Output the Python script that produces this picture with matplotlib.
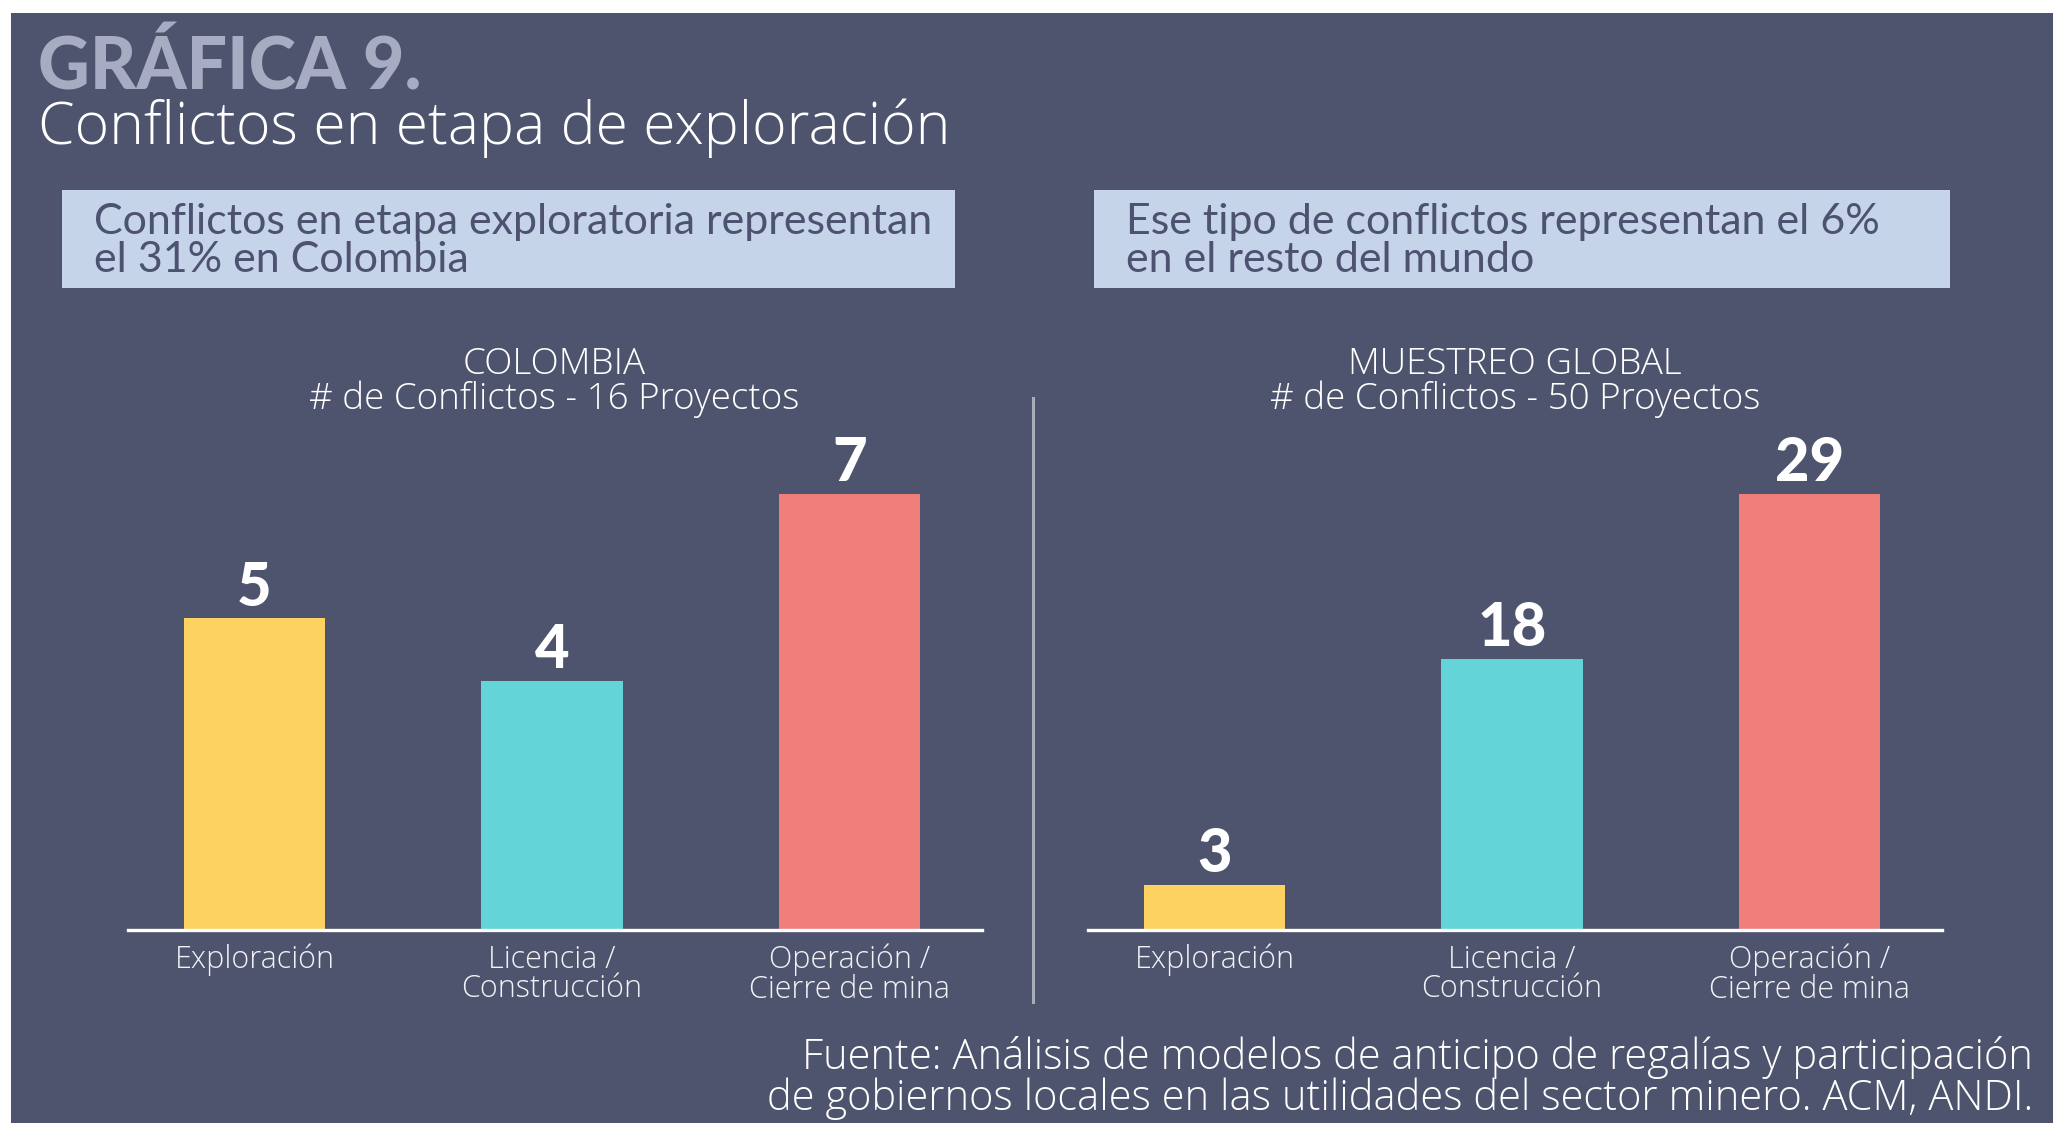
import matplotlib
matplotlib.use("Agg")
import matplotlib.pyplot as plt
from matplotlib.patches import Rectangle

# ---- data ----
categories = ["Exploración", "Licencia /\nConstrucción", "Operación /\nCierre de mina"]
colombia_values = [5, 4, 7]
global_values = [3, 18, 29]
bar_colors = ["#FED260", "#63D5D8", "#F07F7B"]

title_main = "GRÁFICA 9."
title_sub = "Conflictos en etapa de exploración"
box_left_text = "Conflictos en etapa exploratoria representan\nel 31% en Colombia"
box_right_text = "Ese tipo de conflictos representan el 6%\nen el resto del mundo"
left_header = "COLOMBIA\n# de Conflictos - 16 Proyectos"
right_header = "MUESTREO GLOBAL\n# de Conflictos - 50 Proyectos"
footer = ("Fuente: Análisis de modelos de anticipo de regalías y participación\n"
          "de gobiernos locales en las utilidades del sector minero. ACM, ANDI.")

BG = "#4F546E"
W, H = 2053, 1123
FONT = ["Lato", "DejaVu Sans"]
WIDE = ["Open Sans", "DejaVu Sans"]

fig = plt.figure(figsize=(W / 100, H / 100), dpi=100, facecolor="white")


def fx(x):
    return x / W


def fy(y):
    return 1 - y / H


# background panel
fig.patches.append(Rectangle((fx(11), 0), 1 - fx(11), fy(13), transform=fig.transFigure,
                             facecolor=BG, edgecolor="none", zorder=-10))

# titles
fig.text(fx(38), fy(89), title_main, family=FONT, weight="black", fontsize=51.5,
         color="#A8ACC2", ha="left", va="baseline")
fig.text(fx(38), fy(144), title_sub, family=WIDE, weight="light", fontsize=42.5,
         color="white", ha="left", va="baseline")

# info boxes
for (x0, x1, txt, tx) in [(62, 955, box_left_text, 94), (1094, 1950, box_right_text, 1126)]:
    fig.patches.append(Rectangle((fx(x0), fy(288)), fx(x1) - fx(x0), fy(190) - fy(288),
                                 transform=fig.transFigure, facecolor="#C6D4E9",
                                 edgecolor="none", zorder=1))
    fig.text(fx(tx), fy(241), txt, family=FONT, weight="normal", fontsize=31,
             color="#4D5270", ha="left", va="center", linespacing=1.0, zorder=2)

# divider
fig.add_artist(plt.Line2D([fx(1033), fx(1033)], [fy(398), fy(1002)],
                          transform=fig.transFigure, color="#A9ABB9", lw=2.2))


def panel(x0, x1, values, header, hx):
    ax_bottom, ax_top = 930, 400
    ax = fig.add_axes([fx(x0), fy(ax_bottom), fx(x1) - fx(x0), fy(ax_top) - fy(ax_bottom)])
    ax.set_facecolor("none")
    xs = list(range(len(values)))
    bars = ax.bar(xs, values, width=0.475, color=bar_colors, zorder=2)
    ax.set_xlim(-0.425, 2.445)
    ax.set_ylim(0, max(values) * 1.215)
    for s in ["top", "left", "right"]:
        ax.spines[s].set_visible(False)
    ax.spines["bottom"].set_color("white")
    ax.spines["bottom"].set_linewidth(2.4)
    ax.set_yticks([])
    ax.set_xticks(xs)
    ax.set_xticklabels(categories, family=WIDE, weight="light", fontsize=22,
                       color="#F2F2F5", linespacing=0.9)
    ax.tick_params(axis="x", length=0, pad=10)
    for b, v in zip(bars, values):
        ax.annotate(str(v), (b.get_x() + b.get_width() / 2, v), xytext=(0, 2),
                    textcoords="offset points", ha="center", va="bottom",
                    family=FONT, weight="black", fontsize=43, color="white")
    fig.text(fx(hx), fy(382), header, family=WIDE, weight="light", fontsize=26.5,
             color="white", ha="center", va="center", linespacing=0.93)
    return ax


panel(128, 982, colombia_values, left_header, 554)
panel(1088, 1942, global_values, right_header, 1515)

fig.text(fx(2033), fy(1078), footer, family=WIDE, weight="light", fontsize=30,
         color="white", ha="right", va="center", linespacing=0.94)

fig.savefig("out.png", dpi=100, facecolor="white")
